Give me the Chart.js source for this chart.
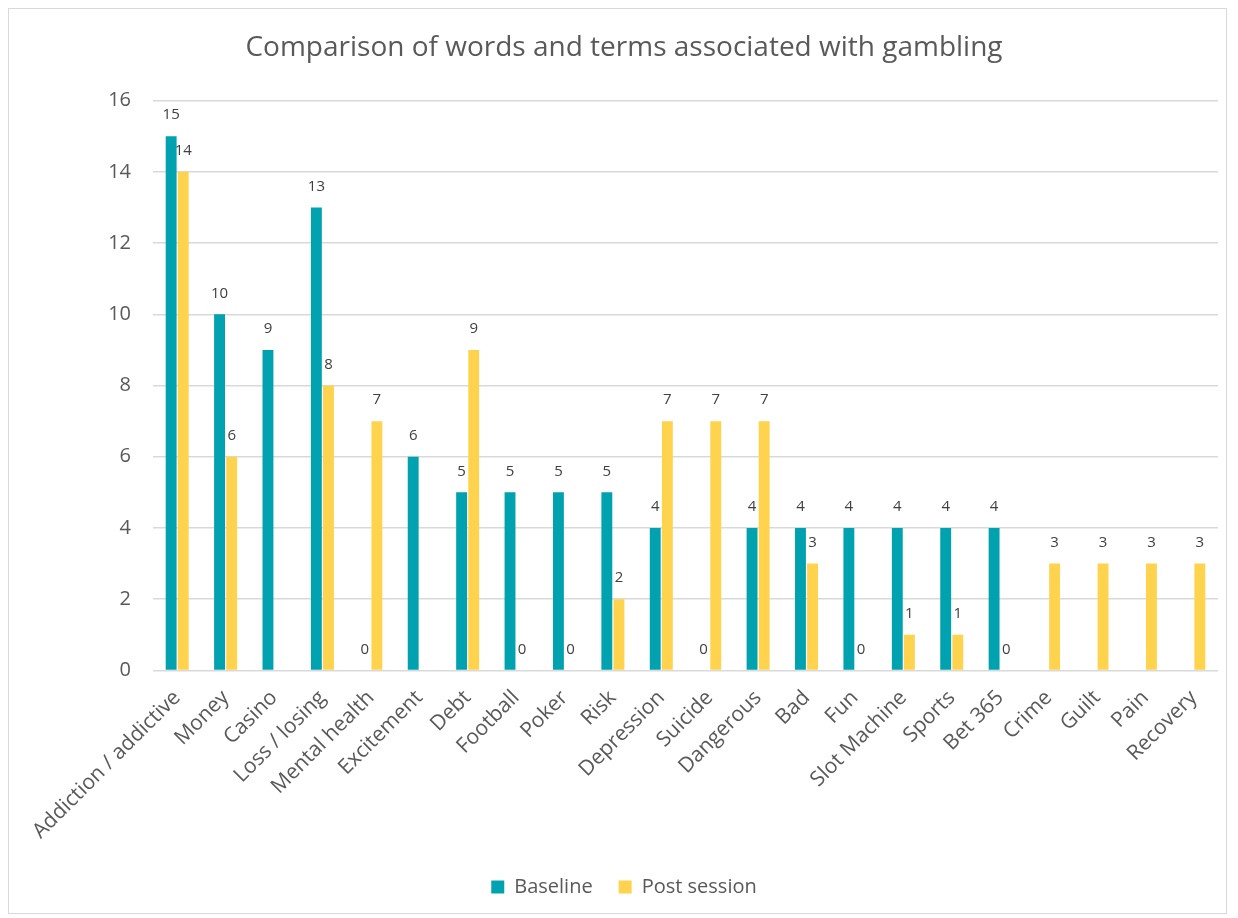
<!DOCTYPE html>
<html>
<head>
    <title>Comparison of words and terms associated with gambling</title>
    <script src="https://cdn.jsdelivr.net/npm/chart.js"></script>
    <style>
        body {
            margin: 0;
            background: #fff;
        }
        .frame {
            position: absolute;
            left: 8px;
            top: 8px;
            width: 1219px;
            height: 906px;
            border: 1.5px solid #d9d9d9;
            box-sizing: border-box;
        }
        .chart-container {
            position: absolute;
            left: 0;
            top: 0;
            width: 1238px;
            height: 918px;
        }
    </style>
</head>
<body>
    <div class="frame"></div>
    <div class="chart-container">
        <canvas id="wordsChart"></canvas>
    </div>

    <script>
        var categories = ['Addiction / addictive', 'Money', 'Casino', 'Loss / losing', 'Mental health',
            'Excitement', 'Debt', 'Football', 'Poker', 'Risk', 'Depression', 'Suicide', 'Dangerous',
            'Bad', 'Fun', 'Slot Machine', 'Sports', 'Bet 365', 'Crime', 'Guilt', 'Pain', 'Recovery'];
        var baseline = [15, 10, 9, 13, 0, 6, 5, 5, 5, 5, 4, 0, 4, 4, 4, 4, 4, 4, null, null, null, null];
        var postSession = [14, 6, null, 8, 7, null, 9, 0, 0, 2, 7, 7, 7, 3, 0, 1, 1, 0, 3, 3, 3, 3];
        var yTicks = [0, 2, 4, 6, 8, 10, 12, 14, 16];

        var fontFamily = '"Open Sans", "Liberation Sans", sans-serif';

        // draws the number above each bar (skips empty values)
        var valueLabels = {
            id: 'valueLabels',
            afterDatasetsDraw: function(chart) {
                var ctx = chart.ctx;
                ctx.save();
                ctx.font = '15px ' + fontFamily;
                ctx.fillStyle = '#404040';
                ctx.textAlign = 'center';
                ctx.textBaseline = 'middle';
                chart.data.datasets.forEach(function(ds, i) {
                    chart.getDatasetMeta(i).data.forEach(function(bar, j) {
                        var v = ds.data[j];
                        if (v === null) return;
                        ctx.fillText(v, bar.x, bar.y - 21);
                    });
                });
                ctx.restore();
            }
        };

        var ctx = document.getElementById('wordsChart').getContext('2d');
        var wordsChart = new Chart(ctx, {
            type: 'bar',
            data: {
                labels: categories,
                datasets: [
                    {
                        label: 'Baseline',
                        data: baseline,
                        backgroundColor: '#00a2b0'
                    },
                    {
                        label: 'Post session',
                        data: postSession,
                        backgroundColor: '#ffd34e'
                    }
                ]
            },
            options: {
                responsive: true,
                maintainAspectRatio: false,
                animation: false,
                categoryPercentage: 0.5,
                barPercentage: 0.9,
                layout: {
                    padding: { left: 30, right: 20, top: 10, bottom: 11 }
                },
                plugins: {
                    title: {
                        display: true,
                        text: 'Comparison of words and terms associated with gambling',
                        color: '#595959',
                        font: { family: fontFamily, size: 28, weight: 'normal' },
                        padding: { top: 21, bottom: 36 }
                    },
                    legend: {
                        position: 'bottom',
                        labels: {
                            color: '#595959',
                            font: { family: fontFamily, size: 20 },
                            boxWidth: 13,
                            boxHeight: 13,
                            padding: 26
                        }
                    },
                    tooltip: { enabled: false }
                },
                scales: {
                    x: {
                        grid: { display: false },
                        border: { display: false },
                        ticks: {
                            color: '#595959',
                            font: { family: fontFamily, size: 21 },
                            minRotation: 45,
                            maxRotation: 45,
                            autoSkip: false,
                            padding: 7
                        }
                    },
                    y: {
                        min: 0,
                        max: 16,
                        afterBuildTicks: function(axis) {
                            axis.ticks = yTicks.map(function(v) { return { value: v }; });
                        },
                        afterFit: function(axis) {
                            axis.width = 123;
                        },
                        grid: {
                            color: '#d9d9d9',
                            lineWidth: 1.5,
                            drawTicks: false
                        },
                        border: { display: false },
                        ticks: {
                            color: '#595959',
                            font: { family: fontFamily, size: 20 },
                            padding: 22
                        }
                    }
                }
            },
            plugins: [valueLabels]
        });
    </script>
</body>
</html>
